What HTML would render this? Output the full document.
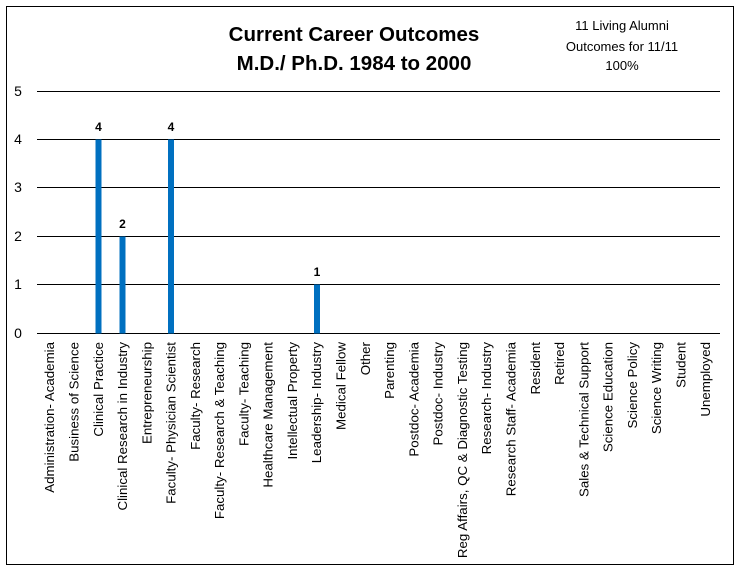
<html><body style="margin:0;background:#fff">
<svg width="741" height="573" xmlns="http://www.w3.org/2000/svg" font-family="Liberation Sans, sans-serif">
<rect x="0" y="0" width="741" height="573" fill="#fff"/>
<rect x="6.5" y="6.5" width="727" height="558" fill="none" stroke="#000" stroke-width="1"/>
<g font-weight="bold" font-size="20.5" text-anchor="middle" fill="#000">
<text x="354" y="41">Current Career Outcomes</text>
<text x="354" y="70">M.D./ Ph.D. 1984 to 2000</text>
</g>
<g font-size="13" text-anchor="middle" fill="#000">
<text x="622" y="30">11 Living Alumni</text>
<text x="622" y="51">Outcomes for 11/11</text>
<text x="622" y="70">100%</text>
</g>
<g stroke="#000" stroke-width="1">
<line x1="37" y1="91.5" x2="720" y2="91.5"/>
<line x1="37" y1="139.5" x2="720" y2="139.5"/>
<line x1="37" y1="187.5" x2="720" y2="187.5"/>
<line x1="37" y1="236.5" x2="720" y2="236.5"/>
<line x1="37" y1="284.5" x2="720" y2="284.5"/>
<line x1="37" y1="333.5" x2="720" y2="333.5"/>
</g>
<g font-size="14" fill="#000" text-anchor="middle">
<text x="18" y="96">5</text><text x="18" y="144">4</text><text x="18" y="192">3</text>
<text x="18" y="241">2</text><text x="18" y="289">1</text><text x="18" y="338">0</text>
</g>
<g fill="#0070c0">
<rect x="95.5" y="139.5" width="6" height="194"/>
<rect x="119.5" y="236.5" width="6" height="97"/>
<rect x="168" y="139.5" width="6" height="194"/>
<rect x="314" y="284.5" width="6" height="49"/>
</g>
<g font-size="12" font-weight="bold" text-anchor="middle" fill="#000">
<text x="98.5" y="131">4</text><text x="122.5" y="228">2</text>
<text x="171" y="131">4</text><text x="317" y="276">1</text>
</g>
<g font-size="13.3" fill="#000" text-anchor="end">
<text transform="translate(54,342) rotate(-90)">Administration- Academia</text>
<text transform="translate(78.5,342) rotate(-90)">Business of Science</text>
<text transform="translate(103,342) rotate(-90)">Clinical Practice</text>
<text transform="translate(127,342) rotate(-90)">Clinical Research in Industry</text>
<text transform="translate(151.5,342) rotate(-90)">Entrepreneurship</text>
<text transform="translate(175.5,342) rotate(-90)">Faculty- Physician Scientist</text>
<text transform="translate(200,342) rotate(-90)">Faculty- Research</text>
<text transform="translate(224,342) rotate(-90)">Faculty- Research &amp; Teaching</text>
<text transform="translate(248.5,342) rotate(-90)">Faculty- Teaching</text>
<text transform="translate(272.5,342) rotate(-90)">Healthcare Management</text>
<text transform="translate(297,342) rotate(-90)">Intellectual Property</text>
<text transform="translate(321,342) rotate(-90)">Leadership- Industry</text>
<text transform="translate(345.5,342) rotate(-90)">Medical Fellow</text>
<text transform="translate(370,342) rotate(-90)">Other</text>
<text transform="translate(394,342) rotate(-90)">Parenting</text>
<text transform="translate(418.5,342) rotate(-90)">Postdoc- Academia</text>
<text transform="translate(442.5,342) rotate(-90)">Postdoc- Industry</text>
<text transform="translate(467,342) rotate(-90)">Reg Affairs, QC &amp; Diagnostic Testing</text>
<text transform="translate(491,342) rotate(-90)">Research- Industry</text>
<text transform="translate(515.5,342) rotate(-90)">Research Staff- Academia</text>
<text transform="translate(540,342) rotate(-90)">Resident</text>
<text transform="translate(564,342) rotate(-90)">Retired</text>
<text transform="translate(588.5,342) rotate(-90)">Sales &amp; Technical Support</text>
<text transform="translate(612.5,342) rotate(-90)">Science Education</text>
<text transform="translate(637,342) rotate(-90)">Science Policy</text>
<text transform="translate(661,342) rotate(-90)">Science Writing</text>
<text transform="translate(685.5,342) rotate(-90)">Student</text>
<text transform="translate(710,342) rotate(-90)">Unemployed</text>
</g>
</svg>
</body></html>
